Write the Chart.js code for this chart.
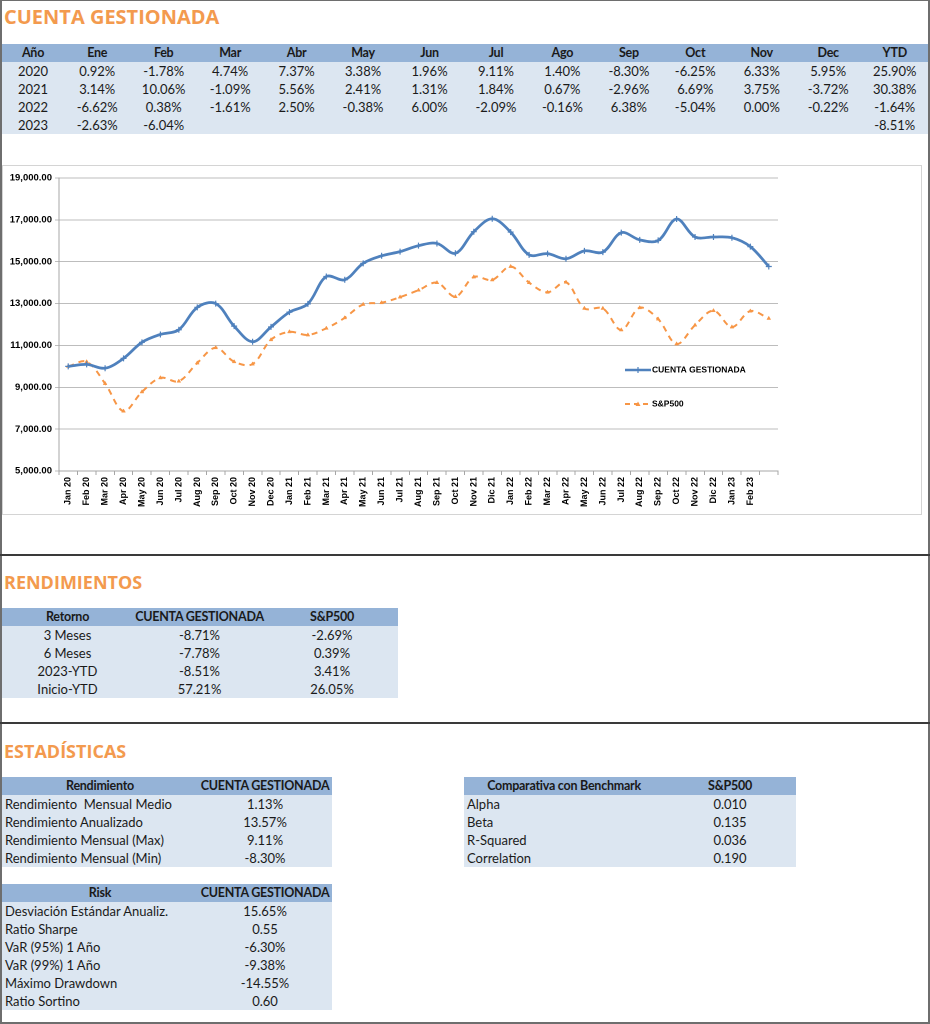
<!DOCTYPE html>
<html>
<head>
<meta charset="utf-8">
<script src="https://cdn.jsdelivr.net/npm/chart.js@4/dist/chart.umd.min.js"></script>
<style>
  html, body { margin: 0; padding: 0; background: #fff; }
  #page { position: relative; width: 930px; height: 1024px; overflow: hidden; font-family: Lato, "Open Sans", sans-serif; color: #1a1a1a; }
  .frame { position: absolute; background: #6e6e6e; }
  .title { position: absolute; color: #F39A4E; font-weight: bold; font-family: "Open Sans", Lato, sans-serif; }
  table { position: absolute; border-collapse: collapse; table-layout: fixed; font-size: 13px; }
  td, th { padding: 0; height: 18px; line-height: 18px; white-space: nowrap; overflow: hidden; }
  th { background: #95B3D7; font-weight: bold; text-align: center; font-size: 12.5px; letter-spacing: -0.25px; }
  td { background: #DCE6F1; text-align: center; }
  td.l { text-align: left; padding-left: 3px; }
  .sep { position: absolute; left: 0; width: 930px; height: 2px; background: #3a3a3a; }
  #chartBox { position: absolute; left: 2px; top: 165px; width: 920px; height: 350px; border: 1px solid #D4D4D4; box-sizing: border-box; }
  #chartInner { position: relative; width: 918px; height: 348px; }
</style>
</head>
<body>
<div id="page">
  <div class="frame" style="left:0;top:0;width:930px;height:1px;"></div>
  <div class="frame" style="left:0;top:0;width:2px;height:1024px;"></div>
  <div class="frame" style="left:928px;top:0;width:2px;height:1024px;"></div>
  <div class="frame" style="left:0;top:1022px;width:930px;height:2px;"></div>

  <div class="title" style="left:4px;top:3px;font-size:20px;line-height:28px;">CUENTA GESTIONADA</div>

  <table id="monthly" style="left:2px;top:44px;width:926px;"></table>

  <div id="chartBox"><div id="chartInner"><canvas id="c"></canvas></div></div>

  <div class="sep" style="top:554px;"></div>

  <div class="title" style="left:4px;top:570px;font-size:18px;line-height:24px;">RENDIMIENTOS</div>
  <table id="rend" style="left:2px;top:608px;width:396px;"></table>

  <div class="sep" style="top:722px;"></div>

  <div class="title" style="left:4px;top:739px;font-size:18px;line-height:24px;">ESTADÍSTICAS</div>
  <table id="stats" style="left:2px;top:777px;width:330px;"></table>
  <table id="risk" style="left:2px;top:884px;width:330px;"></table>
  <table id="bench" style="left:464px;top:777px;width:332px;"></table>
</div>

<script>
// ---- Chart data ----
const months = ["Jan 20","Feb 20","Mar 20","Apr 20","May 20","Jun 20","Jul 20","Aug 20","Sep 20","Oct 20","Nov 20","Dec 20",
  "Jan 21","Feb 21","Mar 21","Apr 21","May 21","Jun 21","Jul 21","Aug 21","Sep 21","Oct 21","Nov 21","Dic 21",
  "Jan 22","Feb 22","Mar 22","Apr 22","May 22","Jun 22","Jul 22","Aug 22","Sep 22","Oct 22","Nov 22","Dic 22",
  "Jan 23","Feb 23",""];
const cuentaGestionada = [10000,10092,9912,10382,11148,11524,11750,12821,13000,11921,11176,11884,
  12591,12986,14292,14137,14923,15282,15482,15767,15873,15403,16434,17050,
  16416,15329,15387,15139,15518,15459,16387,16044,16018,17040,16182,16182,
  16146,15721,14772];
const sp500 = [10000,10220,9180,7860,8780,9450,9290,10160,10890,10220,10110,11270,
  11650,11500,11820,12320,12960,13040,13310,13640,14000,13330,14270,14130,
  14770,14000,13540,14020,12770,12770,11740,12800,12260,11070,11970,12660,
  11880,12640,12290];
const yMin = 5000, yMax = 19000, yStep = 2000;

// ---- Table data ----
const monthHeaders = ["Año","Ene","Feb","Mar","Abr","May","Jun","Jul","Ago","Sep","Oct","Nov","Dec","YTD"];
const row2020 = ["2020","0.92%","-1.78%","4.74%","7.37%","3.38%","1.96%","9.11%","1.40%","-8.30%","-6.25%","6.33%","5.95%","25.90%"];
const row2021 = ["2021","3.14%","10.06%","-1.09%","5.56%","2.41%","1.31%","1.84%","0.67%","-2.96%","6.69%","3.75%","-3.72%","30.38%"];
const row2022 = ["2022","-6.62%","0.38%","-1.61%","2.50%","-0.38%","6.00%","-2.09%","-0.16%","6.38%","-5.04%","0.00%","-0.22%","-1.64%"];
const row2023 = ["2023","-2.63%","-6.04%","","","","","","","","","","","-8.51%"];

const rendHeaders = ["Retorno","CUENTA GESTIONADA","S&P500"];
const rendRows = [["3 Meses","-8.71%","-2.69%"],["6 Meses","-7.78%","0.39%"],["2023-YTD","-8.51%","3.41%"],["Inicio-YTD","57.21%","26.05%"]];

const statsHeaders = ["Rendimiento","CUENTA GESTIONADA"];
const statsRows = [["Rendimiento&nbsp; Mensual Medio","1.13%"],["Rendimiento Anualizado","13.57%"],["Rendimiento Mensual (Max)","9.11%"],["Rendimiento Mensual (Min)","-8.30%"]];
const riskHeaders = ["Risk","CUENTA GESTIONADA"];
const riskRows = [["Desviación Estándar Anualiz.","15.65%"],["Ratio Sharpe","0.55"],["VaR (95%) 1 Año","-6.30%"],["VaR (99%) 1 Año","-9.38%"],["Máximo Drawdown","-14.55%"],["Ratio Sortino","0.60"]];
const benchHeaders = ["Comparativa con Benchmark","S&P500"];
const benchRows = [["Alpha","0.010"],["Beta","0.135"],["R-Squared","0.036"],["Correlation","0.190"]];

function buildTable(id, headers, rows, widths, leftFirst) {
  const t = document.getElementById(id);
  let html = "<colgroup>" + widths.map(w => `<col style="width:${w}px">`).join("") + "</colgroup>";
  html += "<tr>" + headers.map(h => `<th>${h}</th>`).join("") + "</tr>";
  rows.forEach(r => {
    html += "<tr>" + r.map((c, i) => `<td${leftFirst && i === 0 ? ' class="l"' : ''}>${c}</td>`).join("") + "</tr>";
  });
  t.innerHTML = html;
}
buildTable("monthly", monthHeaders, [row2020,row2021,row2022,row2023], [62].concat(Array(13).fill(66.46)), false);
buildTable("rend", rendHeaders, rendRows, [131,133,132], false);
buildTable("stats", statsHeaders, statsRows, [196,134], true);
buildTable("risk", riskHeaders, riskRows, [196,134], true);
buildTable("bench", benchHeaders, benchRows, [200,132], true);

// ---- Chart ----
const legendPlugin = {
  id: "customLegend",
  afterDraw(chart) {
    const ctx = chart.ctx;
    ctx.save();
    ctx.font = "bold 8.5px 'Liberation Sans', Arial, sans-serif";
    ctx.textBaseline = "middle";
    ctx.fillStyle = "#000";
    // Cuenta
    let y = 204;
    ctx.strokeStyle = "#4F81BD"; ctx.lineWidth = 2.5; ctx.setLineDash([]);
    ctx.beginPath(); ctx.moveTo(622, y); ctx.lineTo(648, y); ctx.stroke();
    ctx.lineWidth = 1.2;
    ctx.beginPath(); ctx.moveTo(635, y - 3); ctx.lineTo(635, y + 3); ctx.stroke();
    ctx.fillText(chart.data.datasets[0].label, 649, y);
    // S&P
    y = 238;
    ctx.strokeStyle = "#F79646"; ctx.lineWidth = 2; ctx.setLineDash([5, 4]);
    ctx.beginPath(); ctx.moveTo(622, y); ctx.lineTo(648, y); ctx.stroke();
    ctx.setLineDash([]);
    ctx.fillStyle = "#F79646";
    ctx.beginPath(); ctx.moveTo(635, y - 2.5); ctx.lineTo(637.5, y + 2); ctx.lineTo(632.5, y + 2); ctx.closePath(); ctx.fill();
    ctx.fillStyle = "#000";
    ctx.fillText(chart.data.datasets[1].label, 649, y);
    ctx.restore();
  }
};

new Chart(document.getElementById("c"), {
  type: "line",
  data: {
    labels: months,
    datasets: [
      { label: "CUENTA GESTIONADA", data: cuentaGestionada, borderColor: "#4F81BD", backgroundColor: "#4F81BD",
        borderWidth: 2.75, tension: 0.35, pointStyle: "cross", pointRadius: 3, pointBorderWidth: 1.2, pointBorderColor: "#4F81BD" },
      { label: "S&P500", data: sp500, borderColor: "#F79646", backgroundColor: "#F79646",
        borderWidth: 2, borderDash: [6, 5], tension: 0.35, pointStyle: "triangle", pointRadius: 2.2, pointBorderWidth: 0.5 }
    ]
  },
  options: {
    responsive: true,
    maintainAspectRatio: false,
    animation: false,
    devicePixelRatio: 2,
    layout: { padding: { top: 12, right: 143, left: 0, bottom: 0 } },
    plugins: { legend: { display: false }, tooltip: { enabled: false } },
    scales: {
      x: {
        type: "category",
        offset: true,
        grid: { display: true, drawOnChartArea: false, drawTicks: true, offset: true, tickLength: 4, color: "#A6A6A6" },
        border: { display: true, color: "#A6A6A6" },
        ticks: { autoSkip: false, maxRotation: 90, minRotation: 90, padding: 2, color: "#000",
          font: { family: "'Liberation Sans', Arial, sans-serif", size: 9, weight: "bold" } },
        afterFit(s) { s.height = 43; }
      },
      y: {
        min: yMin, max: yMax,
        grid: { color: "#BDBDBD", tickLength: 4 },
        border: { display: true, color: "#A6A6A6" },
        ticks: { stepSize: yStep, padding: 3, color: "#000",
          font: { family: "'Liberation Sans', Arial, sans-serif", size: 9.5, weight: "bold" },
          callback: v => v.toLocaleString("en-US", { minimumFractionDigits: 2, maximumFractionDigits: 2 }) },
        afterFit(s) { s.width = 56; }
      }
    }
  },
  plugins: [legendPlugin]
});
</script>
</body>
</html>
